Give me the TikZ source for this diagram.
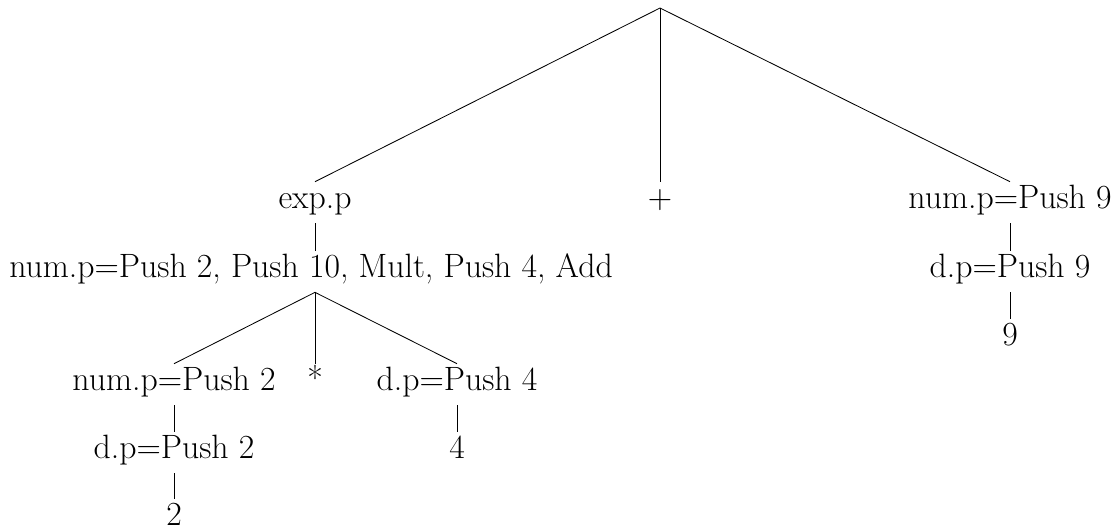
\documentclass[tikz,border=0pt]{standalone}
\begin{document}
\begin{tikzpicture}[x=0.025cm,y=-0.025cm,
  lbl/.style={anchor=base,inner xsep=2pt,inner ysep=3pt,text height=15.5pt,text depth=7.7pt,font=\fontsize{24}{28}\selectfont},
  edge/.style={draw,line width=0.6pt}]
\useasboundingbox (0,0) rectangle (1119,529);
\coordinate (root) at (660,8);
\node[lbl] (exp) at (315,208) {exp.p};
\node[lbl] (plus) at (660,208) {+};
\node[lbl] (num9) at (1010,208) {num.p=Push 9};
\node[lbl] (numlong) at (311,277) {num.p=Push 2, Push 10, Mult, Push 4, Add};
\node[lbl] (dp9) at (1010,277) {d.p=Push 9};
\node[lbl] (nine) at (1010,345) {9};
\node[lbl] (num2) at (174,390) {num.p=Push 2};
\node[lbl] (star) at (315,390) {*};
\node[lbl] (dp4) at (457,390) {d.p=Push 4};
\node[lbl] (dp2) at (174,458) {d.p=Push 2};
\node[lbl] (four) at (457,458) {4};
\node[lbl,text depth=0pt,inner ysep=1pt] (two) at (174,525) {2};
\draw[edge] (root) -- (exp.north);
\draw[edge] (root) -- (plus.north);
\draw[edge] (root) -- (num9.north);
\draw[edge] (exp.south) -- (exp.south |- numlong.north);
\draw[edge] (num9) -- (dp9);
\draw[edge] (dp9) -- (nine);
\coordinate (nl) at (exp.south |- numlong.south);
\draw[edge] (nl) -- (num2.north);
\draw[edge] (nl) -- (star.north);
\draw[edge] (nl) -- (dp4.north);
\draw[edge] (num2) -- (dp2);
\draw[edge] (dp2.south) -- ([yshift=2pt]two.north);
\draw[edge] (dp4) -- (four);
\end{tikzpicture}
\end{document}
